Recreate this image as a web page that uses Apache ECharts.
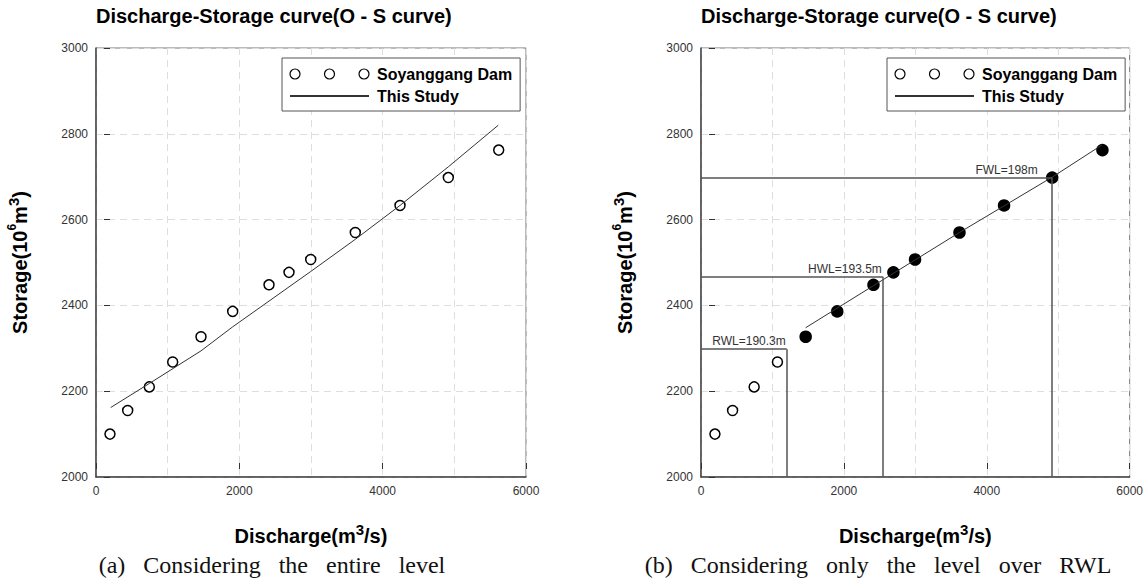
<!DOCTYPE html>
<html>
<head>
<meta charset="utf-8">
<script src="https://cdn.jsdelivr.net/npm/echarts@6/dist/echarts.min.js"></script>
<style>
html,body{margin:0;padding:0;background:#fff;}
#c{width:1146px;height:580px;}
</style>
</head>
<body>
<div id="c"></div>
<script>
// ---- data ----
const discharge = [195, 442, 744, 1070, 1465, 1907, 2414, 2693, 2996, 3618, 4242, 4916, 5619];
const storage   = [2100, 2155, 2210, 2268, 2327, 2386, 2448, 2477, 2507, 2570, 2633, 2698, 2762];
const fitAllQ = [205, 744, 1465, 1907, 2996, 3618, 4242, 4916, 5613];
const fitAllS = [2162, 2218, 2294, 2350, 2479, 2554, 2633, 2723, 2820];
const fitRwlQ = [1465, 2414, 3618, 4916, 5613];
const fitRwlS = [2348, 2446, 2570, 2699, 2774];
const levelNames = ['RWL=190.3m', 'HWL=193.5m', 'FWL=198m'];
const levelQ = [1200, 2545, 4910];
const levelS = [2298, 2467, 2698];
const xMin = 0, xMax = 6000, xStep = 1000, xLabelStep = 2000;
const yMin = 2000, yMax = 3000, yStep = 200;
const chartTitle = 'Discharge-Storage curve(O - S curve)';
const seriesNames = ['Soyanggang Dam', 'This Study'];
const captions = ['(a)\u2002 Considering\u2002 the\u2002 entire\u2002 level',
                  '(b)\u2002 Considering\u2002 only\u2002 the\u2002 level\u2002 over\u2002 RWL'];

// ---- chart ----
const SANS = "'Liberation Sans', Arial, sans-serif";
const SERIF = "'Liberation Serif', 'Times New Roman', serif";
const chart = echarts.init(document.getElementById('c'), null, {renderer: 'svg'});

const grids = [
  {left: 96, top: 48, width: 430, height: 429},
  {left: 701, top: 48, width: 430, height: 429}
];

function mainX(gi) {
  return {
    type: 'value', gridIndex: gi, position: 'bottom', min: xMin, max: xMax, interval: xStep,
    name: '{a|Discharge(m}{s|3}{a|/s)}', nameLocation: 'middle', nameGap: 45,
    nameTextStyle: {rich: {
      a: {fontFamily: SANS, fontSize: 20, fontWeight: 'bold', color: '#000', lineHeight: 24, verticalAlign: 'bottom'},
      s: {fontFamily: SANS, fontSize: 15, fontWeight: 'bold', color: '#000', lineHeight: 24, verticalAlign: 'top'}
    }},
    axisLine: {show: true, onZero: false, lineStyle: {color: '#444', width: 1.5}},
    axisTick: {show: false},
    axisLabel: {fontFamily: SANS, fontSize: 12, color: '#333', margin: 8,
      formatter: v => (v % xLabelStep === 0 ? String(v) : '')},
    splitLine: {show: true, lineStyle: {color: '#dedede', width: 1, type: [7, 5]}}
  };
}
function tickX(gi) {
  return {
    type: 'value', gridIndex: gi, position: 'bottom', offset: -8, min: xMin, max: xMax, interval: xLabelStep,
    axisLine: {show: false, onZero: false},
    axisTick: {show: true, inside: true, length: 6, lineStyle: {color: '#333', width: 1}},
    axisLabel: {show: false}, splitLine: {show: false}
  };
}
function mainY(gi) {
  return {
    type: 'value', gridIndex: gi, position: 'left', min: yMin, max: yMax, interval: yStep,
    name: '{a|Storage(10}{t|6}{a|m}{s|3}{a|)}', nameLocation: 'middle', nameGap: 66, nameRotate: 90,
    nameTextStyle: {rich: {
      a: {fontFamily: SANS, fontSize: 20, fontWeight: 'bold', color: '#000', lineHeight: 24, verticalAlign: 'bottom'},
      t: {fontFamily: SANS, fontSize: 12, fontWeight: 'bold', color: '#000', lineHeight: 24, verticalAlign: 'top'},
      s: {fontFamily: SANS, fontSize: 15, fontWeight: 'bold', color: '#000', lineHeight: 24, verticalAlign: 'top'}
    }},
    axisLine: {show: true, onZero: false, lineStyle: {color: '#444', width: 1.5}},
    axisTick: {show: false},
    axisLabel: {fontFamily: SANS, fontSize: 12, color: '#333', margin: 8, formatter: v => String(v)},
    splitLine: {show: true, lineStyle: {color: '#dedede', width: 1, type: [7, 5]}}
  };
}
function tickY(gi) {
  return {
    type: 'value', gridIndex: gi, position: 'left', offset: -8, min: yMin, max: yMax, interval: yStep,
    axisLine: {show: false, onZero: false},
    axisTick: {show: true, inside: true, length: 6, lineStyle: {color: '#333', width: 1}},
    axisLabel: {show: false}, splitLine: {show: false}
  };
}

const ringsIcon = 'path://M0,5a5,5 0 1,0 10,0a5,5 0 1,0 -10,0M34.5,5a5,5 0 1,0 10,0a5,5 0 1,0 -10,0M69,5a5,5 0 1,0 10,0a5,5 0 1,0 -10,0';
function legendAt(left) {
  return {
    left: left, top: 58, orient: 'vertical', itemGap: 4,
    itemWidth: 79, itemHeight: 10,
    padding: [7, 8, 6, 7],
    borderColor: '#555', borderWidth: 1, backgroundColor: '#fff',
    selectedMode: false,
    textStyle: {fontFamily: SANS, fontSize: 16, fontWeight: 'bold', color: '#000', lineHeight: 18, padding: [0, 0, 0, 3]},
    data: [
      {name: seriesNames[0], icon: ringsIcon, itemStyle: {color: '#fff', borderColor: '#000', borderWidth: 1.2}},
      {name: seriesNames[1], itemStyle: {color: 'rgba(0,0,0,0)', borderColor: 'rgba(0,0,0,0)', borderWidth: 0, opacity: 0}}
    ]
  };
}

const pts = discharge.map((q, i) => [q, storage[i]]);
const ptsRight = discharge.map((q, i) => (
  q > levelQ[0]
    ? {value: [q, storage[i]], symbolSize: 11, itemStyle: {color: '#000', borderColor: '#000'}}
    : {value: [q, storage[i]]}
));

const markData = [];
levelNames.forEach((nm, i) => {
  markData.push([
    {name: nm, coord: [xMin, levelS[i]],
     label: {show: true, position: 'insideEndTop', formatter: '{b}', distance: [i === 2 ? 14 : 1, 2],
             fontFamily: SANS, fontSize: 12, color: '#333'}},
    {coord: [levelQ[i], levelS[i]]}
  ]);
  markData.push([
    {name: '', coord: [levelQ[i], yMin], label: {show: false}},
    {coord: [levelQ[i], levelS[i]]}
  ]);
});

const option = {
  animation: false,
  backgroundColor: '#fff',
  title: [
    {text: chartTitle, left: 96, top: 6, padding: 0,
     textStyle: {fontFamily: SANS, fontSize: 20, fontWeight: 'bold', color: '#000'}},
    {text: chartTitle, left: 701, top: 6, padding: 0,
     textStyle: {fontFamily: SANS, fontSize: 20, fontWeight: 'bold', color: '#000'}}
  ],
  legend: [legendAt(282), legendAt(887)],
  grid: grids.map(g => Object.assign({show: true, borderColor: '#777', borderWidth: 1, backgroundColor: 'transparent'}, g)),
  xAxis: [mainX(0), tickX(0), mainX(1), tickX(1)],
  yAxis: [mainY(0), tickY(0), mainY(1), tickY(1)],
  series: [
    {name: seriesNames[1], type: 'line', xAxisIndex: 0, yAxisIndex: 0, symbol: 'none', silent: true,
     itemStyle: {color: '#333'},
     lineStyle: {color: '#333', width: 1}, data: fitAllQ.map((q, i) => [q, fitAllS[i]])},
    {name: seriesNames[0], type: 'scatter', xAxisIndex: 0, yAxisIndex: 0, symbol: 'circle', symbolSize: 10,
     itemStyle: {color: '#fff', borderColor: '#000', borderWidth: 1.5, opacity: 1}, data: pts},
    {name: seriesNames[1], type: 'line', xAxisIndex: 2, yAxisIndex: 2, symbol: 'none', silent: true,
     itemStyle: {color: '#333'},
     lineStyle: {color: '#333', width: 1}, data: fitRwlQ.map((q, i) => [q, fitRwlS[i]]),
     markLine: {silent: true, symbol: ['none', 'none'], animation: false,
       lineStyle: {type: 'solid', color: '#555', width: 1.5},
       emphasis: {disabled: true},
       data: markData}},
    {name: seriesNames[0], type: 'scatter', xAxisIndex: 2, yAxisIndex: 2, symbol: 'circle', symbolSize: 10,
     itemStyle: {color: '#fff', borderColor: '#000', borderWidth: 1.5, opacity: 1}, data: ptsRight}
  ],
  graphic: captions.map((t, i) => ({
    type: 'text', x: i === 0 ? 272 : 878, y: 565, silent: true,
    style: {text: t, fontFamily: SERIF, fontSize: 24, fill: '#111', textAlign: 'center', textVerticalAlign: 'middle'}
  }))
};
chart.setOption(option);
</script>
</body>
</html>
